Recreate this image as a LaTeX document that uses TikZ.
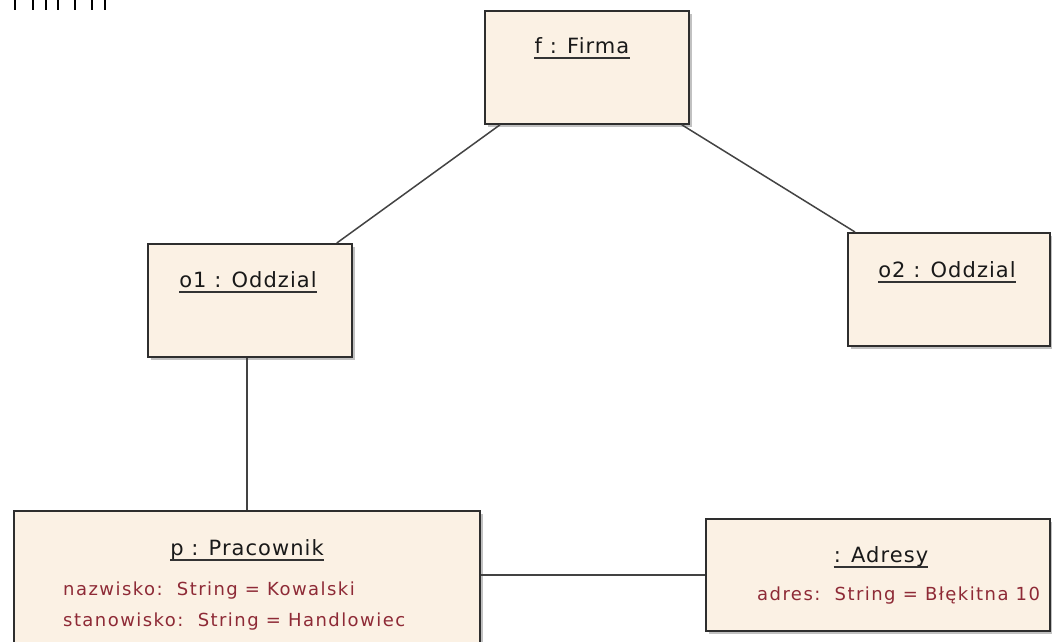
\documentclass[tikz,border=0pt]{standalone}
\usepackage{fontspec}
\setmainfont{DejaVu Sans}
\newfontfamily\titlefont[LetterSpace=5]{DejaVu Sans}
\newfontfamily\attrfont[LetterSpace=8]{DejaVu Sans}
\usetikzlibrary{calc}
\definecolor{objfill}{HTML}{FBF1E4}
\definecolor{objline}{HTML}{2E2E2E}
\definecolor{attrtxt}{HTML}{8E2A36}
\definecolor{shade}{HTML}{A8A8A8}
\tikzset{
  objbox/.style={draw=objline, line width=1.8pt, fill=objfill, rectangle, inner sep=0pt, anchor=north west},
  objshadow/.style={fill=shade, opacity=0.7},
  objtitle/.style={font=\titlefont\fontsize{21}{24}\selectfont, text=black!90, inner sep=0pt, anchor=base},
  attr/.style={font=\attrfont\fontsize{18}{21}\selectfont, text=attrtxt, inner sep=0pt, anchor=base west},
  link/.style={draw=objline!90, line width=1.5pt},
  uline/.style={draw=black!80, line width=1.8pt},
  tick/.style={draw=black, line width=2.6pt}
}
\newcommand{\objshadow}[4]{\fill[objshadow] (#1+4,#2+4) rectangle (#3+4,#4+4);}
\begin{document}
\begin{tikzpicture}[x=1pt,y=-1pt]
\useasboundingbox[fill=white] (0,0) rectangle (1052,641);
\begin{scope}
\clip (0,0) rectangle (1052,641);
% tick marks along the top edge
\foreach \tx [count=\i] in {15,33,46,58,75,92,105}
  \draw[tick] (\tx,0) coordinate (tk\i) -- (\tx,10);

% shadows
\objshadow{484}{10}{688}{123}
\objshadow{147}{243}{351}{356}
\objshadow{847}{232}{1049}{345}
\objshadow{13}{510}{479}{660}
\objshadow{705}{518}{1049}{630}

% object boxes
\node[objbox, minimum width=204pt, minimum height=113pt] (f) at (484,10) {};
\node[objbox, minimum width=204pt, minimum height=113pt] (o1) at (147,243) {};
\node[objbox, minimum width=202pt, minimum height=113pt] (o2) at (847,232) {};
\node[objbox, minimum width=466pt, minimum height=150pt] (p) at (13,510) {};
\node[objbox, minimum width=344pt, minimum height=112pt] (a) at (705,518) {};

% links
\draw[link] ($(f.south west)+(16,0)$) -- ($(o1.north east)+(-16,0)$);
\draw[link] ($(f.south east)+(-8,0)$) -- ($(o2.north west)+(8,0)$);
\draw[link] (o1.south -| 247,0) -- (p.north -| 247,0);
\draw[link] (p.east |- 0,575) -- (a.west |- 0,575);

% titles
\node[objtitle] (tf) at (582,53) {f : Firma};
\node[objtitle] (to1) at (248,287) {o1 : Oddzial};
\node[objtitle] (to2) at (947,277) {o2 : Oddzial};
\node[objtitle] (tp) at (247,555) {p : Pracownik};
\node[objtitle] (ta) at (881,562) {: Adresy};
\foreach \t in {tf,to1,to2,tp,ta}
  \draw[uline] ($(\t.base west)+(0,5)$) -- ($(\t.base east)+(0,5)$);

% attributes
\node[attr] (pn) at (63,595) {nazwisko:\ \ String = Kowalski};
\node[attr] (ps) at (63,626) {stanowisko:\ \ String = Handlowiec};
\node[attr] (aa) at (757,600) {adres:\ \ String = Błękitna 10};
\end{scope}
\end{tikzpicture}
\end{document}
